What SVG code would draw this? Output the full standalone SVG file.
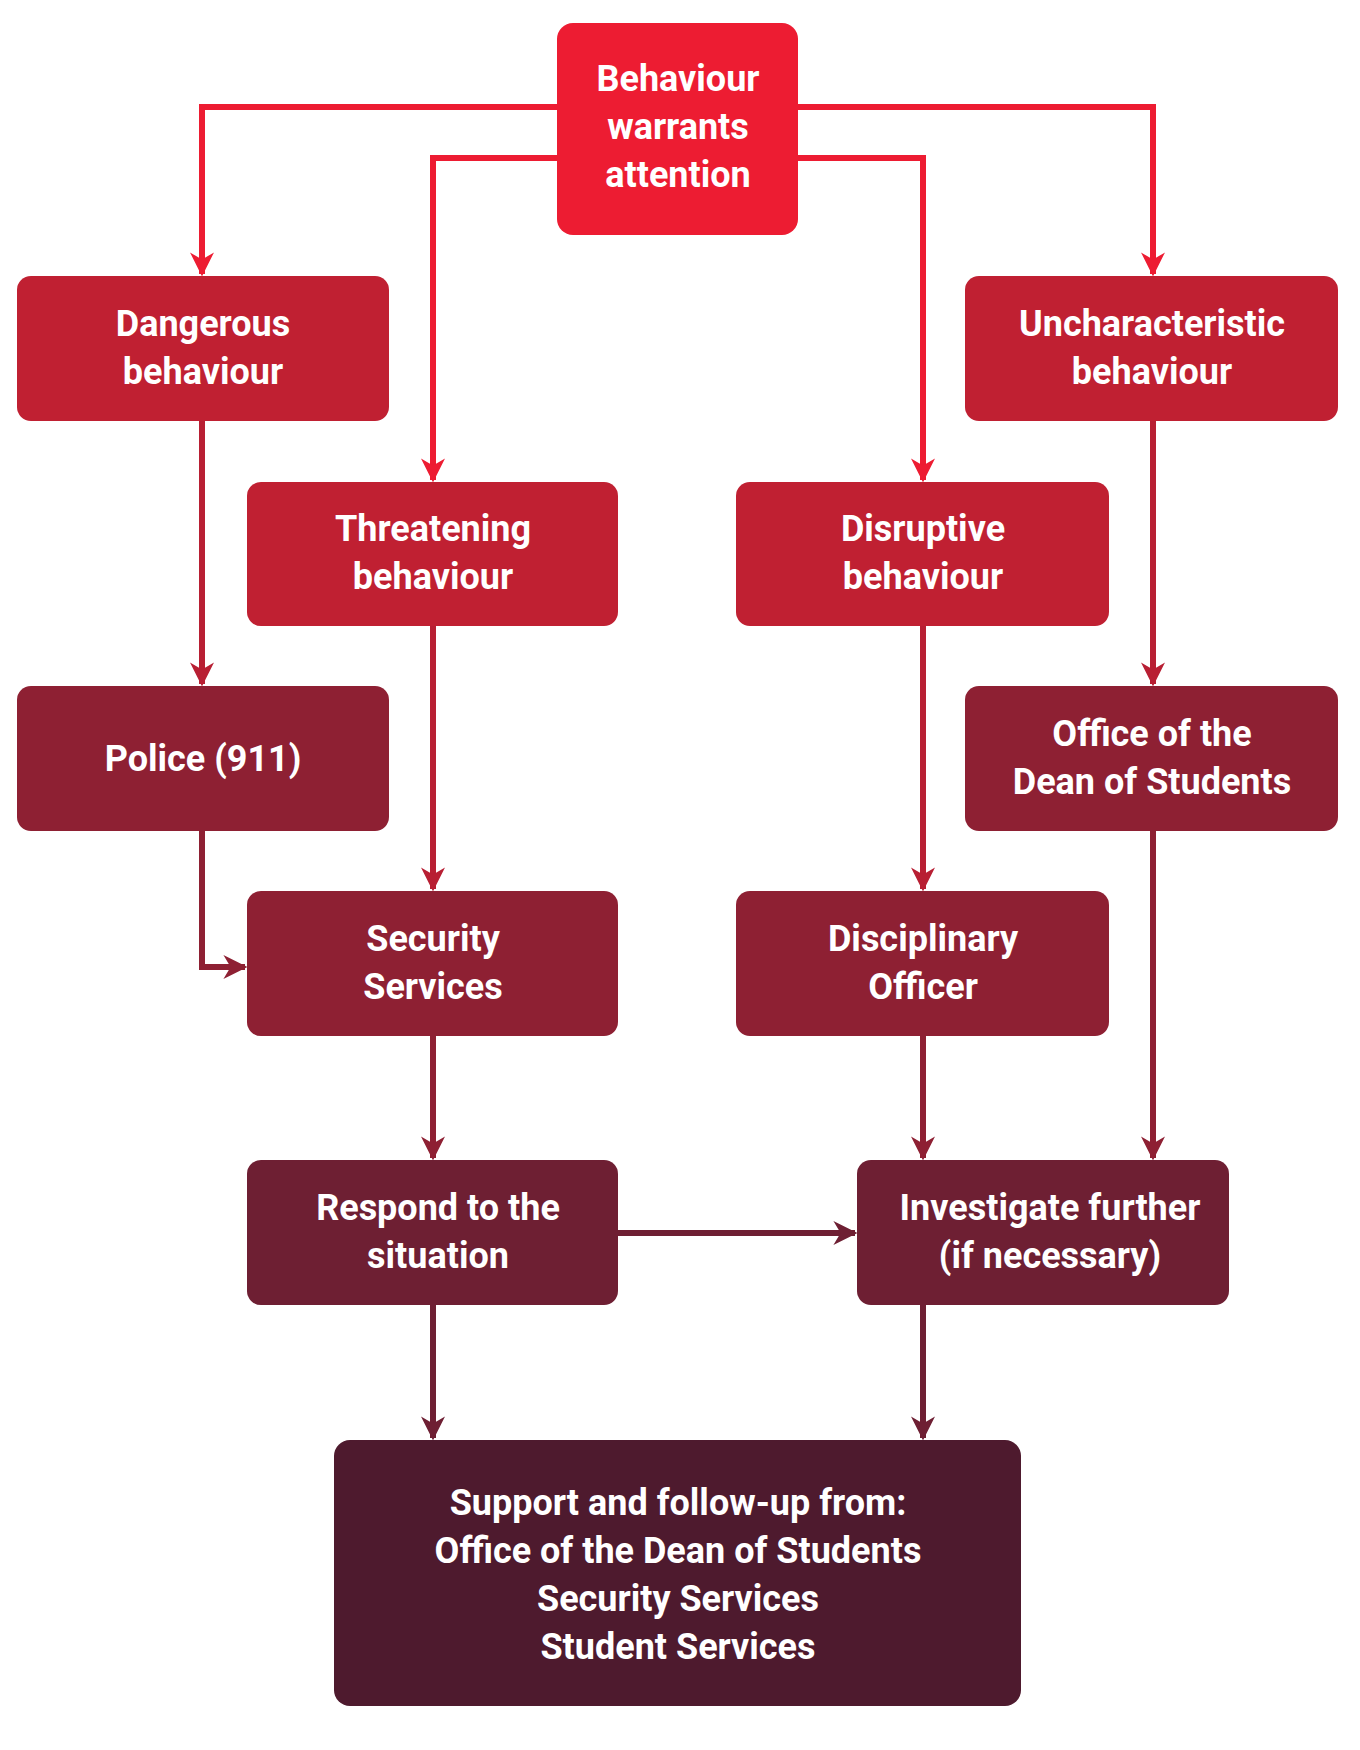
<svg xmlns="http://www.w3.org/2000/svg" width="1360" height="1750" viewBox="0 0 1360 1750">
<defs>
<style>
text{font-family:Roboto,"Liberation Sans",sans-serif;font-weight:700;font-size:36px;fill:#fff;text-anchor:middle}
.c{fill:none;stroke-width:6}
</style>
<marker id="a1" viewBox="0 0 10 10" refX="9" refY="5" markerWidth="4" markerHeight="4" orient="auto" markerUnits="strokeWidth"><path d="M0,0L10,5L0,10L3,5z" fill="#ED1C32"/></marker>
<marker id="a2" viewBox="0 0 10 10" refX="9" refY="5" markerWidth="4" markerHeight="4" orient="auto" markerUnits="strokeWidth"><path d="M0,0L10,5L0,10L3,5z" fill="#B81F33"/></marker>
<marker id="a3" viewBox="0 0 10 10" refX="9" refY="5" markerWidth="4" markerHeight="4" orient="auto" markerUnits="strokeWidth"><path d="M0,0L10,5L0,10L3,5z" fill="#8E2033"/></marker>
<marker id="a4" viewBox="0 0 10 10" refX="9" refY="5" markerWidth="4" markerHeight="4" orient="auto" markerUnits="strokeWidth"><path d="M0,0L10,5L0,10L3,5z" fill="#6E1F33"/></marker>
</defs>
<g id="connectors">
<path class="c" stroke="#ED1C32" marker-end="url(#a1)" d="M557,107H202V274"/>
<path class="c" stroke="#ED1C32" marker-end="url(#a1)" d="M557,158H433V480"/>
<path class="c" stroke="#ED1C32" marker-end="url(#a1)" d="M798,107H1153V274"/>
<path class="c" stroke="#ED1C32" marker-end="url(#a1)" d="M798,158H923V480"/>
<path class="c" stroke="#B81F33" marker-end="url(#a2)" d="M202,421V684"/>
<path class="c" stroke="#B81F33" marker-end="url(#a2)" d="M1153,421V684"/>
<path class="c" stroke="#B81F33" marker-end="url(#a2)" d="M433,626V889"/>
<path class="c" stroke="#B81F33" marker-end="url(#a2)" d="M923,626V889"/>
<path class="c" stroke="#8E2033" marker-end="url(#a3)" d="M202,831V967H245"/>
<path class="c" stroke="#8E2033" marker-end="url(#a3)" d="M433,1036V1158"/>
<path class="c" stroke="#8E2033" marker-end="url(#a3)" d="M923,1036V1158"/>
<path class="c" stroke="#8E2033" marker-end="url(#a3)" d="M1153,831V1158"/>
<path class="c" stroke="#6E1F33" marker-end="url(#a4)" d="M618,1233H855"/>
<path class="c" stroke="#6E1F33" marker-end="url(#a4)" d="M433,1305V1438"/>
<path class="c" stroke="#6E1F33" marker-end="url(#a4)" d="M923,1305V1438"/>
</g>
<g id="n-top"><rect x="557" y="23" width="241" height="212" rx="16" fill="#ED1C32"/><text x="678" y="91">Behaviour</text><text x="678" y="139">warrants</text><text x="678" y="187">attention</text></g>
<g id="n-dangerous"><rect x="17" y="276" width="372" height="145" rx="14" fill="#C02032"/><text x="203" y="336">Dangerous</text><text x="203" y="384">behaviour</text></g>
<g id="n-unchar"><rect x="965" y="276" width="373" height="145" rx="14" fill="#C02032"/><text x="1152" y="336">Uncharacteristic</text><text x="1152" y="384">behaviour</text></g>
<g id="n-threat"><rect x="247" y="482" width="371" height="144" rx="14" fill="#C02032"/><text x="433" y="541">Threatening</text><text x="433" y="589">behaviour</text></g>
<g id="n-disrupt"><rect x="736" y="482" width="373" height="144" rx="14" fill="#C02032"/><text x="923" y="541">Disruptive</text><text x="923" y="589">behaviour</text></g>
<g id="n-police"><rect x="17" y="686" width="372" height="145" rx="14" fill="#8E2033"/><text x="203" y="771">Police (911)</text></g>
<g id="n-office"><rect x="965" y="686" width="373" height="145" rx="14" fill="#8E2033"/><text x="1152" y="746">Office of the</text><text x="1152" y="794">Dean of Students</text></g>
<g id="n-security"><rect x="247" y="891" width="371" height="145" rx="14" fill="#8E2033"/><text x="433" y="951">Security</text><text x="433" y="999">Services</text></g>
<g id="n-disc"><rect x="736" y="891" width="373" height="145" rx="14" fill="#8E2033"/><text x="923" y="951">Disciplinary</text><text x="923" y="999">Officer</text></g>
<g id="n-respond"><rect x="247" y="1160" width="371" height="145" rx="14" fill="#6E1F33"/><text x="438" y="1220">Respond to the</text><text x="438" y="1268">situation</text></g>
<g id="n-invest"><rect x="857" y="1160" width="372" height="145" rx="14" fill="#6E1F33"/><text x="1050" y="1220">Investigate further</text><text x="1050" y="1268">(if necessary)</text></g>
<g id="n-support"><rect x="334" y="1440" width="687" height="266" rx="16" fill="#4E1A2E"/><text x="678" y="1515">Support and follow-up from:</text><text x="678" y="1563">Office of the Dean of Students</text><text x="678" y="1611">Security Services</text><text x="678" y="1659">Student Services</text></g>
</svg>
